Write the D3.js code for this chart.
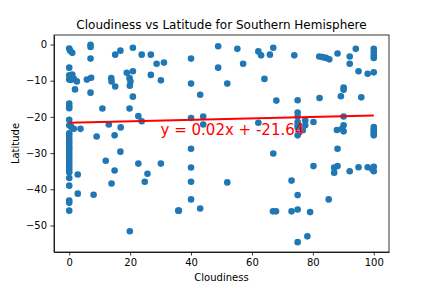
<!DOCTYPE html>
<html>
<head>
<meta charset="utf-8">
<script src="https://cdnjs.cloudflare.com/ajax/libs/d3/7.8.5/d3.min.js"></script>
<style>
  body { margin: 0; background: #fff; }
  text { font-family: "DejaVu Sans", sans-serif; }
  .axis path, .axis line { stroke: #000; stroke-width: 0.8; }
  .axis text { font-size: 10px; fill: #000; }
</style>
</head>
<body>
<div id="chart"></div>
<script>
// cloudiness (%) vs latitude, southern hemisphere cities
var cloudiness = [
  0, 0.3, 1, 0, 0, 0.5, 1, 0, 0.5, 1.5, 2.5, 1.9, 0, 0, 0, 0, 0, 0.6, 1.5, 3.7,
  0, 0, 0, 0, 0, 0, 0, 0, 0, 0, 0, 0, 0, 0, 0, 0, 0, 0, 0, 0,
  2.8, 2.8, 8, 7, 7, 7, 5.8, 7.2, 7, 9,
  15.1, 16.8, 20.9, 23.8, 26.8, 28.7, 31.1,
  13.8, 13.9, 15.1, 18.9, 19.8, 20.1, 19.9, 20.9, 20.9, 26.8, 30.1,
  10.9, 19.8, 22.7, 23.8, 13, 16.9, 14.9,
  12, 16.8, 14.9, 13.9, 22.7, 25.7, 24.8, 30.1, 35.8, 19.9,
  48.9, 55.2, 62.1, 63, 65.9, 67, 73.9, 40, 48.9, 57.1, 40, 51.9, 64.1, 43, 68, 75, 40, 44, 44, 62.1,
  75, 75, 75, 75, 75, 75,
  40, 40, 40, 40, 36, 43, 51.9, 67, 66.9, 67.9, 73, 73, 75, 75, 75, 79.1, 78.2, 85.2,
  82.1, 83.2, 84.3, 85.4, 88.1, 92.1, 92.1, 94.1, 100, 100, 100, 100, 95, 98, 100,
  82.2, 90.1, 90.1, 89.2, 95.9,
  77.5, 77.5, 80.2, 90.1, 90.1, 89.6, 87.9, 90.1, 100, 100, 100, 76.7, 100, 100,
  88.1, 80.2, 87, 88.1, 87, 92.1, 95, 98, 99.5, 100, 100
];
var latitude = [
  -1.1, -1.7, -2.3, -6.4, -8.5, -9, -8.3, -9.7, -9.8, -9.5, -10.2, -12.4, -16.3, -17, -17.6, -20.8, -22.3, -22.7, -23.3, -23.3,
  -24.5, -25.3, -26.1, -26.9, -27.6, -28.4, -29.1, -29.9, -30.7, -31.5, -32.3, -33, -33.8, -34.6, -35.3, -36.9, -39, -43.1, -43.7, -45.9,
  -35.9, -41.2, -41.5, -0.1, -0.7, -3.9, -9.7, -9.2, -13.3, -25.4,
  -2.8, -1.7, -0.9, -2.8, -2.8, -5.3, -5.0,
  -9.3, -10.2, -11.6, -7.8, -9.3, -10.2, -11.4, -7.4, -14.4, -8.4, -9.9,
  -17.7, -17.7, -19.8, -21.2, -22.1, -22.9, -25.1,
  -32.1, -29.6, -34.8, -38.4, -32.9, -35.7, -37.9, -32.9, -45.9, -51.6,
  -0.5, -1.2, -1.9, -3.0, -2.8, -0.9, -3.0, -3.9, -6.4, -5.3, -10.8, -10.8, -9.5, -13.9, -15.5, -15.4, -20.3, -19.9, -22.1, -21.6,
  -18.8, -19.9, -21.4, -22.3, -22.9, -25.1,
  -28.8, -34.0, -37.9, -42.8, -45.9, -45.3, -38.1, -30.1, -46.1, -46.1, -37.6, -46.1, -41.6, -45.6, -54.6, -46.3, -53, -42.8,
  -3.3, -3.5, -3.7, -4.1, -2.5, -3.3, -5.3, -1.2, -1.2, -2.1, -3.0, -3.7, -7.4, -8.1, -7.7,
  -14.8, -11.9, -12.5, -14.3, -14.6,
  -21, -22.3, -21.4, -19.9, -22.3, -23.3, -23.6, -24.0, -22.8, -24, -25.1, -23.7, -23.5, -24.5,
  -28.8, -33.6, -34, -33.6, -35.4, -35, -33.9, -33.9, -34.4, -33.8, -35
];
var xTicks = [0, 20, 40, 60, 80, 100];
var yTicks = [0, -10, -20, -30, -40, -50];
var slope = 0.02, intercept = -21.64;
var eqLabel = "y = 0.02x + -21.64";

var margin = {top: 35, right: 43, bottom: 36, left: 54},
    width = 432 - margin.left - margin.right,
    height = 288 - margin.top - margin.bottom;

function padded(ext) {
  var p = (ext[1] - ext[0]) * 0.05;
  return [ext[0] - p, ext[1] + p];
}

var x = d3.scaleLinear().domain(padded(d3.extent(cloudiness))).range([0, width]);
var y = d3.scaleLinear().domain(padded(d3.extent(latitude))).range([height, 0]);

var svg = d3.select("#chart").append("svg")
    .attr("width", 432)
    .attr("height", 288)
  .append("g")
    .attr("transform", "translate(" + margin.left + "," + margin.top + ")");

var points = cloudiness.map(function(c, i) { return {c: c, lat: latitude[i]}; });

svg.selectAll("circle")
    .data(points)
  .enter().append("circle")
    .attr("cx", function(d) { return x(d.c); })
    .attr("cy", function(d) { return y(d.lat); })
    .attr("r", 3.3)
    .attr("fill", "#1f77b4");

// regression line over data range
var xr = d3.extent(cloudiness);
svg.append("line")
    .attr("x1", x(xr[0])).attr("y1", y(slope * xr[0] + intercept))
    .attr("x2", x(xr[1])).attr("y2", y(slope * xr[1] + intercept))
    .attr("stroke", "red")
    .attr("stroke-width", 2);

svg.append("text")
    .attr("x", x(30))
    .attr("y", y(-25))
    .style("font-size", "15px")
    .attr("fill", "red")
    .text(eqLabel);

svg.append("g")
    .attr("class", "axis")
    .attr("transform", "translate(0," + height + ")")
    .call(d3.axisBottom(x).tickValues(xTicks).tickSize(3.5).tickPadding(3.5).tickSizeOuter(0));

svg.append("g")
    .attr("class", "axis")
    .call(d3.axisLeft(y).tickValues(yTicks).tickSize(3.5).tickPadding(3.5).tickSizeOuter(0)
      .tickFormat(function(d) { return d < 0 ? "\u2212" + Math.abs(d) : d; }));

svg.append("rect")
    .attr("width", width)
    .attr("height", height)
    .attr("fill", "none")
    .attr("stroke", "#000")
    .attr("stroke-width", 0.8);

svg.append("text")
    .attr("x", width / 2)
    .attr("y", -6)
    .attr("text-anchor", "middle")
    .style("font-size", "12px")
    .text("Cloudiness vs Latitude for Southern Hemisphere");

svg.append("text")
    .attr("x", width / 2)
    .attr("y", height + 29)
    .attr("text-anchor", "middle")
    .style("font-size", "10px")
    .text("Cloudiness");

svg.append("text")
    .attr("transform", "translate(-35," + (height / 2) + ") rotate(-90)")
    .attr("text-anchor", "middle")
    .style("font-size", "10px")
    .text("Latitude");
</script>
</body>
</html>
